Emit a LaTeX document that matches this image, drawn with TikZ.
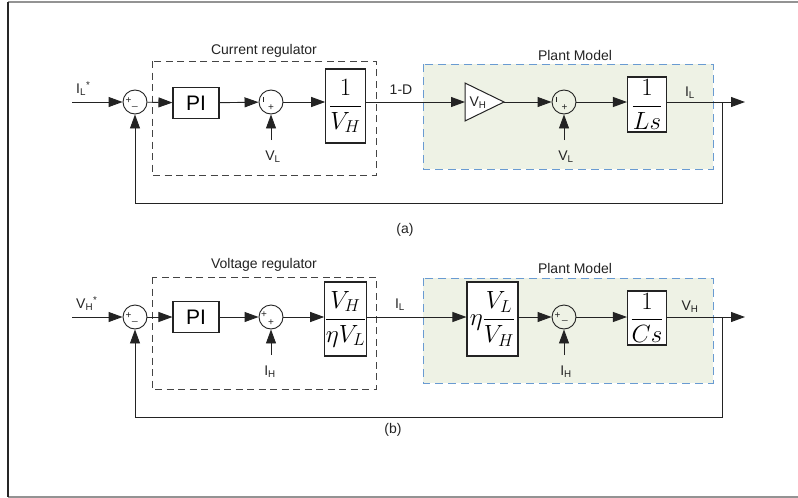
\documentclass[tikz,border=0pt]{standalone}
\usepackage{fontspec}
\setmainfont{Liberation Sans}
\usetikzlibrary{arrows.meta,calc}
\definecolor{plantfill}{RGB}{238,242,229}
\definecolor{plantedge}{RGB}{105,155,210}
\definecolor{lineblk}{RGB}{35,35,35}
\begin{document}
\begin{tikzpicture}[x=1pt,y=-1pt,
  lbl/.style={font=\fontsize{14}{16}\selectfont, inner sep=0pt, text=lineblk},
  sgn/.style={font=\fontsize{10}{10}\selectfont, inner sep=0pt, text=lineblk},
  sumc/.style={circle, draw=lineblk, line width=0.9pt, minimum size=24pt, inner sep=0pt},
  blk/.style={rectangle, draw=lineblk, line width=1.1pt, fill=white, inner sep=0pt},
  frac/.style={font=\fontsize{24}{28}\selectfont},
  arr/.style={draw=lineblk, line width=0.9pt, -{Triangle[length=14pt,width=10pt]}},
  regbox/.style={draw=lineblk!85, line width=0.9pt, dash pattern=on 7pt off 4.5pt},
  plantbox/.style={draw=plantedge, fill=plantfill, line width=1pt, dash pattern=on 8pt off 5pt}]
\useasboundingbox (0,0) rectangle (798,498);
% frame
\draw[gray!85, line width=1.8pt] (8,2) -- (798,2);
\draw[gray!85, line width=1.5pt] (8,497) -- (798,497);
\draw[black!85, line width=1.3pt] (8,2) -- (8,497);

% ================= (a) =================
\draw[plantbox] (423,64) rectangle (713,169);
\node[lbl] at (575,55) {Plant Model};
\draw[regbox] (152,61) rectangle (376,175);
\node[lbl] at (264,51) {Current regulator};

\coordinate (inA) at (72,102);
\node[lbl, anchor=south west] at (76,96) {I\textsubscript{L}\textsuperscript{*}};
\node[sumc] (S1a) at (135,102) {};
\node[sgn] at (128.5,101) {+};
\node[sgn] at (135,106.5) {\_};
\node[blk, minimum width=46pt, minimum height=31pt, font=\fontsize{21}{24}\selectfont] (PIa) at (196,103) {PI};
\node[sumc] (S2a) at (271,102) {};
\draw[lineblk, line width=0.7pt] (263,96.5) -- (263,101.5);
\node[sgn] at (271,108) {+};
\coordinate (VLa) at (271,140);
\node[lbl] at (273,157) {V\textsubscript{L}};
\node[blk, minimum width=39.5pt, minimum height=74pt, frac] (B1a) at (345.5,106) {$\displaystyle\frac{1}{V_H}$};
\node[lbl] at (401,90) {1-D};
\draw[lineblk, line width=1pt, fill=white] (465,83) -- (504,102) -- (465,121) -- cycle;
\coordinate (T1w) at (465,102);
\coordinate (T1e) at (504,102);
\node[lbl] (T1txt) at (478,103) {V\textsubscript{H}};
\node[sumc] (S3a) at (564,102) {};
\draw[lineblk, line width=0.7pt] (556.5,96.5) -- (556.5,101.5);
\node[sgn] at (564.5,108) {+};
\coordinate (VL2a) at (564,140);
\node[lbl] at (566,157) {V\textsubscript{L}};
\node[blk, minimum width=39pt, minimum height=55pt, frac] (B2a) at (647,104.5) {$\displaystyle\frac{1}{Ls}$};
\node[lbl] at (690,93) {I\textsubscript{L}};
\coordinate (brA) at (722,102);
\coordinate (outA) at (745,102);
\coordinate (fbA) at (135,203);

\draw[arr] (inA) -- (S1a);
\draw[arr] (S1a) -- (PIa);
\draw[arr] (PIa) -- (S2a);
\draw[arr] (VLa) -- (S2a);
\draw[arr] (S2a) -- (S2a -| B1a.west);
\draw[arr] (B1a.east |- S2a) -- (T1w);
\draw[arr] (T1e) -- (S3a);
\draw[arr] (VL2a) -- (S3a);
\draw[arr] (S3a) -- (S3a -| B2a.west);
\draw[arr] (B2a.east |- S3a) -- (outA);
\draw[arr] (brA) |- (fbA) -- (S1a);
\node[lbl] at (405,230) {(a)};

% ================= (b) =================
\draw[plantbox] (423,278) rectangle (713,383);
\node[lbl] at (575,268) {Plant Model};
\draw[regbox] (152,277) rectangle (376,389);
\node[lbl] at (264,265) {Voltage regulator};

\coordinate (inB) at (72,317);
\node[lbl, anchor=south west] at (76,311) {V\textsubscript{H}\textsuperscript{*}};
\node[sumc] (S1b) at (135,317) {};
\node[sgn] at (128.5,316) {+};
\node[sgn] at (135,321.5) {\_};
\node[blk, minimum width=46pt, minimum height=31pt, font=\fontsize{21}{24}\selectfont] (PIb) at (196,317) {PI};
\node[sumc] (S2b) at (271,317) {};
\node[sgn] at (264,315) {+};
\node[sgn] at (271,323) {+};
\coordinate (IHb) at (271,355);
\node[lbl] at (270,372) {I\textsubscript{H}};
\node[blk, minimum width=39.5pt, minimum height=74pt, frac] (B1b) at (345.5,319) {$\displaystyle\frac{V_H}{\eta V_L}$};
\node[lbl] at (400,305) {I\textsubscript{L}};
\node[blk, minimum width=51pt, minimum height=74pt, frac] (B3b) at (492.5,319) {$\displaystyle\eta\frac{V_L}{V_H}$};
\node[sumc] (S3b) at (564,317) {};
\node[sgn] at (557.5,316) {+};
\node[sgn] at (565,320.5) {\_};
\coordinate (IH2b) at (564,355);
\node[lbl] at (566,372) {I\textsubscript{H}};
\node[blk, minimum width=39pt, minimum height=54pt, frac] (B2b) at (647,318) {$\displaystyle\frac{1}{Cs}$};
\node[lbl] at (690,307) {V\textsubscript{H}};
\coordinate (brB) at (722,317);
\coordinate (outB) at (745,317);
\coordinate (fbB) at (135,417);

\draw[arr] (inB) -- (S1b);
\draw[arr] (S1b) -- (PIb);
\draw[arr] (PIb) -- (S2b);
\draw[arr] (IHb) -- (S2b);
\draw[arr] (S2b) -- (S2b -| B1b.west);
\draw[arr] (B1b.east |- S2b) -- (S2b -| B3b.west);
\draw[arr] (B3b.east |- S3b) -- (S3b);
\draw[arr] (IH2b) -- (S3b);
\draw[arr] (S3b) -- (S3b -| B2b.west);
\draw[arr] (B2b.east |- S3b) -- (outB);
\draw[arr] (brB) |- (fbB) -- (S1b);
\node[lbl] at (393,430) {(b)};
\end{tikzpicture}
\end{document}
